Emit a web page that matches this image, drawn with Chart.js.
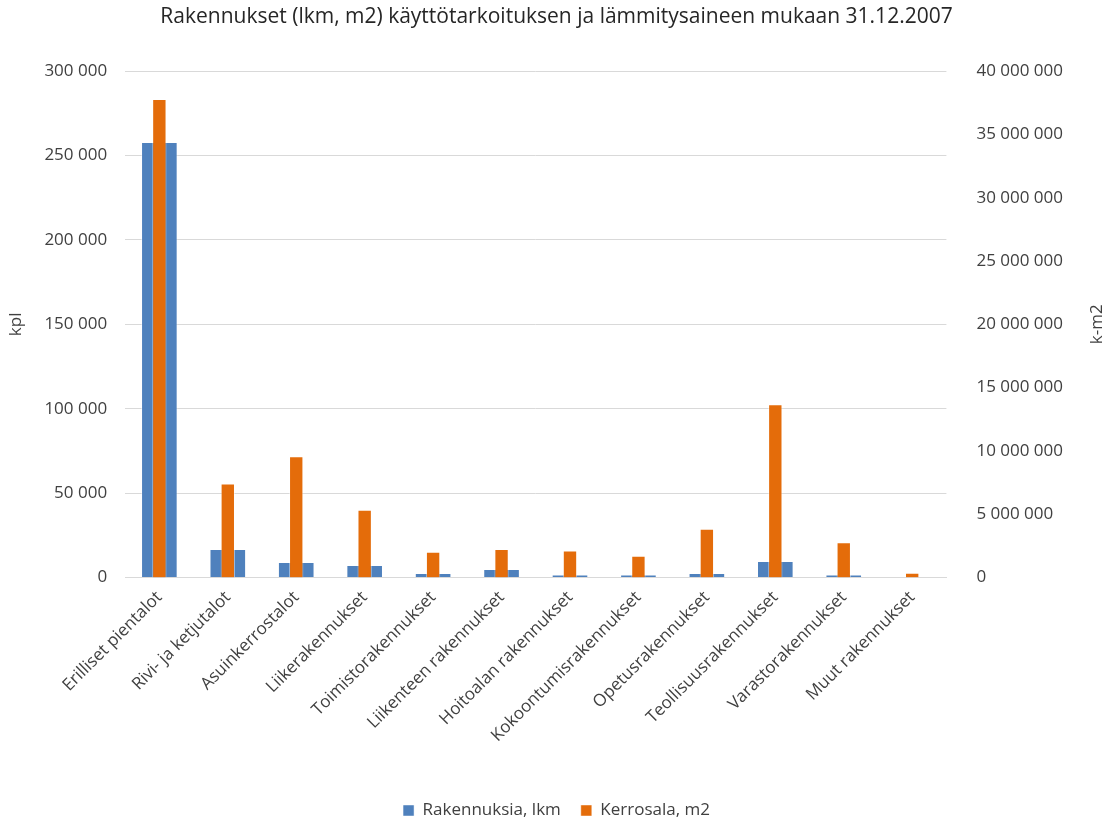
<!DOCTYPE html>
<html>
<head>
<meta charset="utf-8">
<title>Rakennukset 31.12.2007</title>
<script src="https://cdn.jsdelivr.net/npm/chart.js@4/dist/chart.umd.min.js"></script>
<style>
  body { margin: 0; background: #fff; }
  #wrap { width: 1110px; height: 819px; position: relative; }
</style>
</head>
<body>
<div id="wrap"><canvas id="chartRakennukset"></canvas></div>
<script>
let categories = ["Erilliset pientalot", "Rivi- ja ketjutalot", "Asuinkerrostalot", "Liikerakennukset",
                  "Toimistorakennukset", "Liikenteen rakennukset", "Hoitoalan rakennukset",
                  "Kokoontumisrakennukset", "Opetusrakennukset", "Teollisuusrakennukset",
                  "Varastorakennukset", "Muut rakennukset"];
let lkmValues = [258000, 16900, 9100, 7400, 2600, 5000, 1800, 1800, 2600, 9800, 1800, 200];
let m2Values = [37800000, 7430000, 9570000, 5340000, 2030000, 2250000, 2130000, 1720000, 3850000, 13680000, 2770000, 370000];
let seriesNames = ["Rakennuksia, lkm", "Kerrosala, m2"];
let lkmAxis = [0, 300000, 50000];     // min, max, step
let m2Axis = [0, 40000000, 5000000];
let axisTitles = ["kpl", "k-m2"];

const FONT = "'Open Sans', sans-serif";
const TXT = '#404040';

function spaced(v) {
    return v.toString().replace(/\B(?=(\d{3})+(?!\d))/g, ' ');
}

// right axis title reads bottom-to-top like the left one, so draw it by hand
const rightTitle = {
    id: 'rightTitle',
    afterDraw(chart) {
        const ctx = chart.ctx;
        const area = chart.chartArea;
        ctx.save();
        ctx.translate(1097, (area.top + area.bottom) / 2);
        ctx.rotate(-Math.PI / 2);
        ctx.fillStyle = TXT;
        ctx.font = "17px " + FONT;
        ctx.textAlign = 'center';
        ctx.textBaseline = 'middle';
        ctx.fillText(axisTitles[1], 0, 0);
        ctx.restore();
    }
};

const ctx = document.getElementById('chartRakennukset').getContext('2d');

const data = {
    labels: categories,
    datasets: [
        {
            label: seriesNames[0],
            data: lkmValues,
            yAxisID: 'yLkm',
            backgroundColor: '#4f81bd',
            borderColor: 'rgba(255,255,255,0.45)',
            borderWidth: 1,
            grouped: false,
            categoryPercentage: 1,
            barPercentage: 0.535,
            order: 1
        },
        {
            label: seriesNames[1],
            data: m2Values,
            yAxisID: 'yM2',
            backgroundColor: '#e46c0a',
            borderColor: 'rgba(255,255,255,0.45)',
            borderWidth: 1,
            grouped: false,
            categoryPercentage: 1,
            barPercentage: 0.21,
            order: 0
        }
    ]
};

const config = {
    type: 'bar',
    data: data,
    options: {
        responsive: true,
        maintainAspectRatio: false,
        animation: false,
        layout: { padding: { left: 6, right: 3, top: 4, bottom: -10 } },
        plugins: {
            title: {
                display: true,
                text: 'Rakennukset (lkm, m2) käyttötarkoituksen ja lämmitysaineen mukaan 31.12.2007',
                color: '#262626',
                font: { family: FONT, size: 21, weight: 'normal' },
                padding: { top: 0, bottom: 42 }
            },
            legend: {
                position: 'bottom',
                labels: {
                    boxWidth: 11,
                    boxHeight: 11,
                    color: TXT,
                    font: { family: FONT, size: 17 },
                    padding: 20,
                    sort: (a, b) => a.datasetIndex - b.datasetIndex
                }
            },
            tooltip: { enabled: false }
        },
        scales: {
            x: {
                grid: { display: false },
                border: { color: '#d9d9d9', width: 1 },
                ticks: {
                    color: TXT,
                    font: { family: FONT, size: 17 },
                    minRotation: 45,
                    maxRotation: 45,
                    autoSkip: false,
                    padding: 2
                },
                afterFit(scale) { scale.height += 34; }
            },
            yLkm: {
                position: 'left',
                min: lkmAxis[0],
                max: lkmAxis[1],
                grid: { color: '#d9d9d9', drawTicks: false },
                border: { display: false },
                ticks: {
                    stepSize: lkmAxis[2],
                    color: TXT,
                    font: { family: FONT, size: 17 },
                    padding: 18,
                    callback: v => spaced(v)
                },
                title: {
                    display: true,
                    text: axisTitles[0],
                    color: TXT,
                    font: { family: FONT, size: 17 },
                    padding: 0
                }
            },
            yM2: {
                position: 'right',
                min: m2Axis[0],
                max: m2Axis[1],
                grid: { display: false },
                border: { display: false },
                ticks: {
                    stepSize: m2Axis[2],
                    color: TXT,
                    font: { family: FONT, size: 17 },
                    padding: 22,
                    callback: v => spaced(v)
                },
                // room for the hand-drawn title on the far right
                afterFit(scale) { scale.width += 22; }
            }
        }
    },
    plugins: [rightTitle]
};

new Chart(ctx, config);
</script>
</body>
</html>
